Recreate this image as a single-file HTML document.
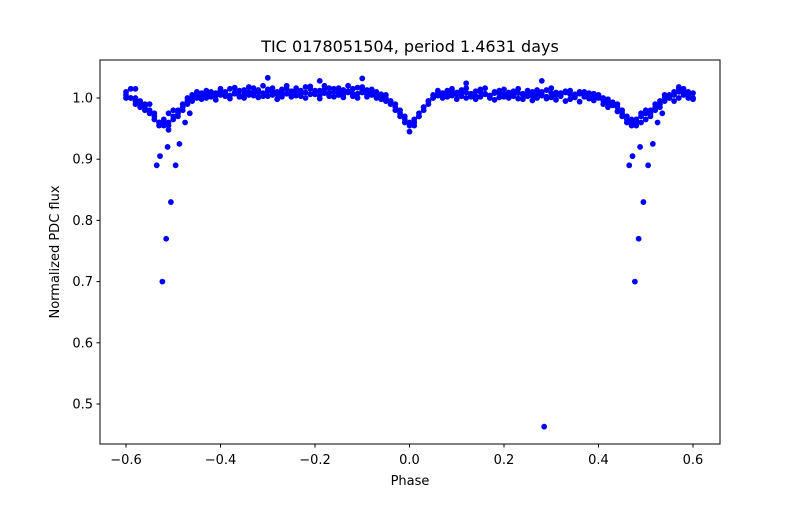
<!DOCTYPE html>
<html><head><meta charset="utf-8"><style>
body{margin:0;background:#fff;}
svg text{font-family:"DejaVu Sans","Liberation Sans",sans-serif;fill:#000;}
</style></head><body>
<svg id="chart" width="800" height="500" xmlns="http://www.w3.org/2000/svg">
<rect width="800" height="500" fill="#fff"/>
<g id="pts"></g>
<rect x="100" y="60" width="620" height="384" fill="none" stroke="#000" stroke-width="1"/>
<g id="xt"></g>
<g id="yt"></g>
<text x="410" y="52" font-size="16" text-anchor="middle">TIC 0178051504, period 1.4631 days</text>
<text x="410" y="485" font-size="13" text-anchor="middle">Phase</text>
<text transform="translate(59,252) rotate(-90)" font-size="13" text-anchor="middle">Normalized PDC flux</text>
</svg>
<script>
const phases=[-0.60,-0.59,-0.58,-0.57,-0.56,-0.55,-0.54,-0.53,-0.52,-0.51,-0.50,-0.49,-0.48,-0.47,-0.46,-0.45,
-0.44,-0.43,-0.42,-0.41,-0.40,-0.39,-0.38,-0.37,-0.36,-0.35,-0.34,-0.33,-0.32,-0.31,-0.30,-0.29,-0.28,-0.27,-0.26,-0.25,-0.24,-0.23,-0.22,-0.21,-0.20,-0.19,-0.18,-0.17,-0.16,-0.15,-0.14,-0.13,-0.12,-0.11,-0.10,-0.09,-0.08,-0.07,-0.06,
-0.05,-0.04,-0.03,-0.02,-0.01,0.00,0.01,0.02,0.03,0.04,0.05,
0.06,0.07,0.08,0.09,0.10,0.11,0.12,0.13,0.14,0.15,0.16,0.17,0.18,0.19,0.20,0.21,0.22,0.23,0.24,0.25,0.26,0.27,0.28,0.29,0.30,0.31,0.32,0.33,0.34,0.35,0.36,0.37,0.38,0.39,0.40,0.41,0.42,0.43,
0.44,0.45,0.46,0.47,0.48,0.49,0.50,0.51,0.52,0.53,0.54,0.55,0.56,0.57,0.58,0.59,0.60];
const fluxA=[1.005,1.0,0.995,0.99,0.985,0.975,0.965,0.96,0.955,0.96,0.965,0.975,0.985,0.99,0.995,1.0,
1.003,1.006,1.002,1.008,1.005,1.01,1.004,1.009,1.012,1.006,1.01,1.004,1.013,1.008,1.011,1.005,1.01,1.014,1.007,1.011,1.004,1.012,1.009,1.015,1.006,1.012,1.008,1.016,1.01,1.005,1.013,1.009,1.015,1.007,1.012,1.006,1.01,1.004,1.003,
1.0,0.995,0.99,0.98,0.97,0.96,0.965,0.975,0.985,0.995,1.0,
1.004,1.008,1.002,1.01,1.006,1.003,1.009,1.005,1.011,1.002,1.007,1.004,1.01,1.001,1.006,1.009,1.003,1.008,1.005,1.012,1.004,1.007,1.01,1.002,1.008,1.005,1.003,1.009,1.006,1.001,1.007,1.004,1.008,1.002,1.005,1.0,0.998,0.993,
0.985,0.975,0.965,0.96,0.955,0.96,0.965,0.975,0.985,0.99,0.995,1.0,1.005,1.0,1.01,1.005,1.0];
const fluxB=[1.01,1.015,1.0,0.995,0.99,0.98,0.97,0.96,0.96,0.955,0.97,0.98,0.99,0.995,1.0,1.005,
1.008,1.0,1.01,1.004,1.012,1.003,1.015,1.007,1.002,1.013,1.005,1.016,1.009,1.003,1.014,1.01,1.006,1.002,1.015,1.008,1.012,1.003,1.018,1.006,1.01,1.004,1.014,1.008,1.002,1.016,1.006,1.011,1.003,1.017,1.009,1.013,1.005,1.0,0.998,
1.005,0.995,0.985,0.975,0.965,0.955,0.96,0.97,0.985,0.99,1.005,
1.008,1.002,1.012,1.004,1.009,1.013,1.0,1.007,1.003,1.014,1.006,1.0,1.008,1.012,1.002,1.005,1.011,0.999,1.007,1.003,1.01,1.0,1.006,1.013,1.001,1.009,1.004,1.011,0.998,1.006,1.01,1.002,0.999,1.007,1.003,0.996,0.992,0.988,
0.978,0.97,0.96,0.955,0.965,0.97,0.975,0.98,0.99,0.995,1.0,1.005,1.01,1.015,1.005,1.01,1.008];
const fluxC=[1.0,1.0,0.99,0.985,0.98,0.99,0.975,0.955,0.965,0.975,0.98,0.97,0.98,1.0,1.005,1.01,
0.998,1.012,1.008,0.997,1.015,1.008,0.999,1.017,1.004,1.0,1.018,1.009,1.001,1.02,1.003,1.016,0.998,1.009,1.02,1.002,1.016,1.007,1.0,1.019,1.012,0.999,1.02,1.003,1.015,1.009,1.001,1.02,1.007,1.0,1.018,1.002,1.014,1.01,1.006,
0.995,0.99,0.98,0.97,0.96,0.945,0.955,0.97,0.98,0.995,1.0,
1.012,1.0,1.006,1.015,0.998,1.008,1.016,1.002,0.998,1.01,1.016,1.003,0.997,1.008,1.014,1.0,1.006,1.015,0.998,1.009,0.996,1.013,1.004,0.999,1.016,0.997,1.008,0.995,1.012,1.003,0.994,1.01,1.004,0.996,1.0,0.99,0.985,0.99,
0.99,0.98,0.97,0.965,0.96,0.975,0.98,0.97,0.98,0.985,1.005,1.0,0.995,1.01,1.015,1.0,0.998];
const extraPhase=[-0.535,-0.528,-0.523,-0.515,-0.512,-0.505,-0.495,-0.487,-0.475,-0.465,-0.51,-0.58,-0.3,-0.1,-0.19,
0.465,0.472,0.477,0.485,0.488,0.495,0.505,0.515,0.525,0.535,0.285,0.28,0.12,0.57];
const extraFlux=[0.89,0.905,0.70,0.77,0.92,0.83,0.89,0.925,0.96,0.975,0.948,1.015,1.033,1.032,1.028,
0.89,0.905,0.70,0.77,0.92,0.83,0.89,0.925,0.96,0.975,0.463,1.028,1.024,1.018];
const xTicks=[-0.6,-0.4,-0.2,0.0,0.2,0.4,0.6];
const xTickLabels=["−0.6","−0.4","−0.2","0.0","0.2","0.4","0.6"];
const yTicks=[0.5,0.6,0.7,0.8,0.9,1.0];
const yTickLabels=["0.5","0.6","0.7","0.8","0.9","1.0"];
const NS="http://www.w3.org/2000/svg";
function xs(v){return 409.5+v*472.5;}
function ys(v){return 98+(1-v)*612;}
const pts=document.getElementById('pts');
function dot(p,f){
  const c=document.createElementNS(NS,'circle');
  
  
  c.setAttribute('cx',xs(p));c.setAttribute('cy',ys(f));c.setAttribute('r',2.9);c.setAttribute('fill','#0000ff');
  pts.appendChild(c);
}
[fluxA,fluxB,fluxC].forEach(arr=>phases.forEach((p,i)=>dot(p,arr[i])));
extraPhase.forEach((p,i)=>dot(p,extraFlux[i]));
const xt=document.getElementById('xt');
xTicks.forEach((v,i)=>{
  const l=document.createElementNS(NS,'line');
  
  
  l.setAttribute('x1',xs(v));l.setAttribute('x2',xs(v));l.setAttribute('y1',444);l.setAttribute('y2',447.5);l.setAttribute('stroke','#000');
  xt.appendChild(l);
  const t=document.createElementNS(NS,'text');
  
  
  t.setAttribute('x',xs(v));t.setAttribute('y',464);t.setAttribute('font-size','13');t.setAttribute('text-anchor','middle');
  t.textContent=xTickLabels[i];xt.appendChild(t);
});
const yt=document.getElementById('yt');
yTicks.forEach((v,i)=>{
  const l=document.createElementNS(NS,'line');
  
  
  l.setAttribute('x1',96.5);l.setAttribute('x2',100);l.setAttribute('y1',ys(v));l.setAttribute('y2',ys(v));l.setAttribute('stroke','#000');
  yt.appendChild(l);
  const t=document.createElementNS(NS,'text');
  
  
  t.setAttribute('x',93);t.setAttribute('y',ys(v)+4.5);t.setAttribute('font-size','13');t.setAttribute('text-anchor','end');
  t.textContent=yTickLabels[i];yt.appendChild(t);
});
</script>
</body></html>
